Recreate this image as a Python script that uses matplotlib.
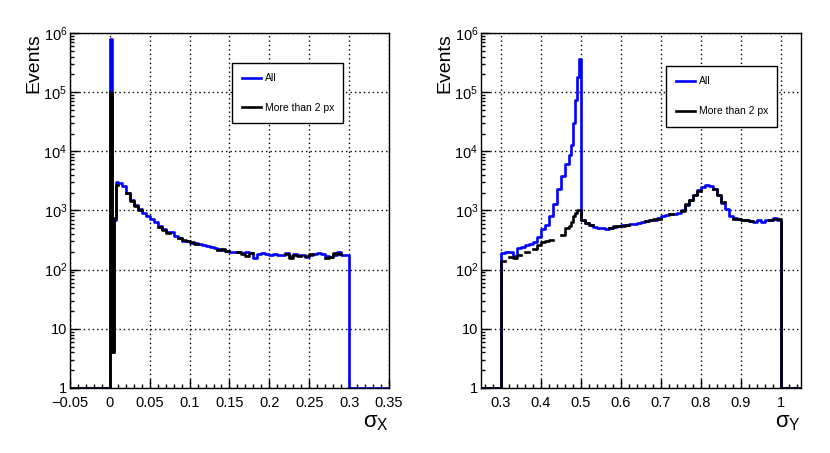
import numpy as np
import matplotlib.pyplot as plt
from matplotlib.ticker import MultipleLocator, FixedLocator, FuncFormatter, LogLocator, NullFormatter

plt.rcParams['font.family'] = ['Liberation Sans', 'DejaVu Sans']
plt.rcParams['mathtext.fontset'] = 'custom'
plt.rcParams['mathtext.rm'] = 'Liberation Sans'
plt.rcParams['mathtext.it'] = 'Liberation Sans:italic'

nan = np.nan

# ---- sigma_X histogram (bin edges and counts) ----
sx_edges = np.concatenate([[-0.05], [0.0, 0.0025, 0.005, 0.0075, 0.01],
                           np.linspace(0.01, 0.30, 59)[1:], [0.35]])
sx_all = [1,
          8e5, 4, 700, 3000,
          2900, 2600, 2000, 1500, 1250, 1050, 920, 800, 720, 640,
          540, 480, 430, 440, 370, 340, 310, 300, 285, 280,
          275, 260, 255, 245, 230, 225, 215, 210, 200, 195,
          200, 190, 195, 190, 160, 185, 190, 185, 180, 185,
          175, 180, 190, 170, 185, 175, 180, 165, 175, 185,
          190, 185, 170, 165, 175, 195, 180, 180,
          1]
sx_more2 = [1,
            1e5, 4, 750, 2700,
            nan, nan, 1950, 1450, 1200, 1000, nan, nan, nan, nan,
            530, 470, 410, nan, nan, 345, 320, 300, 290, 275,
            nan, nan, nan, nan, nan, 215, 220, 205, nan, nan,
            195, 185, 170, 190, nan, nan, nan, nan, nan, nan,
            nan, nan, 185, 160, 180, 170, nan, 170, 185, nan,
            nan, nan, 160, 165, 190, 185, nan, nan,
            nan]

# ---- sigma_Y histogram ----
sy_edges = np.concatenate([[0.25], np.linspace(0.30, 0.47, 18),
                           np.linspace(0.47, 0.50, 7)[1:],
                           np.linspace(0.50, 1.00, 51)[1:], [1.05]])
sy_all = [1,
          190, 200, 195, 170, 230, 245, 260, 270, 290, 350,
          480, 560, 800, 1300, 2300, 3800, 6000,
          8500, 13000, 30000, 75000, 180000, 370000,
          700, 620, 560, 520, 510, 500, 490, 500, 530, 540,
          560, 570, 590, 600, 620, 640, 660, 680, 700, 740,
          800, 850, 870, 880, 900, 1000, 1250, 1500, 1800, 2200,
          2500, 2650, 2600, 2300, 1800, 1350, 1050, 820, 740, 730,
          700, 690, 660, 650, 680, 640, 680, 700, 740, 700,
          1]
sy_more2 = [1,
            140, nan, 165, 160, 180, nan, 195, nan, 220, 260,
            290, 310, 320, nan, nan, 380, 500,
            550, 650, 800, 900, 1000, 1000,
            700, 620, 560, nan, nan, nan, nan, 510, 540, 550,
            555, 560, nan, nan, nan, nan, 670, 690, 720, 730,
            nan, nan, 880, nan, nan, 980, 1270, 1480, 1800, 2150,
            nan, nan, nan, 2350, 1850, 1400, nan, nan, 720, 720,
            690, 680, 670, nan, nan, nan, nan, 690, 730, 720,
            1]

labels = ['All', 'More than 2 px']
ytick_vals = [1, 10, 1e2, 1e3, 1e4, 1e5, 1e6]
ytick_text = ['1', '10', '$10^{2}$', '$10^{3}$', '$10^{4}$', '$10^{5}$', '$10^{6}$']

fig = plt.figure(figsize=(8.3, 4.53), dpi=100)
ax1 = fig.add_axes([0.0843, 0.1435, 0.3843, 0.7837])
ax2 = fig.add_axes([0.5795, 0.1435, 0.3855, 0.7837])


def fmt_x(v, pos):
    s = '%g' % round(v, 4)
    return s.replace('-', '\u2212')


def draw(ax, edges, v_all, v_more, xlim, xmaj, xmin, xlabel, leg_box):
    v_all = np.asarray(v_all, float)
    v_more = np.asarray(v_more, float)
    ax.step(edges, np.append(v_all, v_all[-1]), where='post', color='#0000ff', lw=1.9, label=labels[0])
    ax.step(edges, np.append(v_more, v_more[-1]), where='post', color='black', lw=1.9, label=labels[1])
    ax.set_yscale('log')
    ax.set_ylim(1, 1e6)
    ax.set_xlim(*xlim)
    ax.yaxis.set_major_locator(FixedLocator(ytick_vals))
    ax.set_yticklabels(ytick_text)
    ax.yaxis.set_minor_locator(LogLocator(base=10, subs=np.arange(2, 10), numticks=20))
    ax.yaxis.set_minor_formatter(NullFormatter())
    ax.xaxis.set_major_locator(MultipleLocator(xmaj))
    ax.xaxis.set_minor_locator(MultipleLocator(xmin))
    ax.xaxis.set_major_formatter(FuncFormatter(fmt_x))
    ax.tick_params(which='both', direction='in', top=False, right=False, labelsize=10.5)
    ax.tick_params(which='major', length=6.5, width=1.0)
    ax.tick_params(which='minor', length=3.2, width=1.0)
    ax.tick_params(axis='x', pad=5.5)
    ax.tick_params(axis='y', pad=2)
    ax.grid(True, which='major', color='black', linestyle=(0, (1, 2.2)), lw=1.0)
    for s in ax.spines.values():
        s.set_linewidth(1.0)
    ax.set_ylabel('Events', fontsize=14, loc='top', labelpad=1)
    ax.set_xlabel(xlabel, fontsize=16, loc='right', labelpad=2)
    leg = ax.legend(loc='upper left', bbox_to_anchor=leg_box, mode='expand',
                    fontsize=7.5, frameon=True, fancybox=False, edgecolor='black',
                    borderpad=1.0, labelspacing=1.9, handlelength=1.8, handletextpad=0.4,
                    borderaxespad=0.0)
    leg.get_frame().set_linewidth(1.0)
    leg.get_frame().set_alpha(1.0)


draw(ax1, sx_edges, sx_all, sx_more2, (-0.05, 0.35), 0.05, 0.01,
     r'$\mathrm{\sigma}_{\mathrm{X}}$', (0.508, 0.766, 0.348, 0.15))
draw(ax2, sy_edges, sy_all, sy_more2, (0.25, 1.05), 0.1, 0.02,
     r'$\mathrm{\sigma}_{\mathrm{Y}}$', (0.578, 0.761, 0.347, 0.146))

fig.savefig('out.png', dpi=100)
